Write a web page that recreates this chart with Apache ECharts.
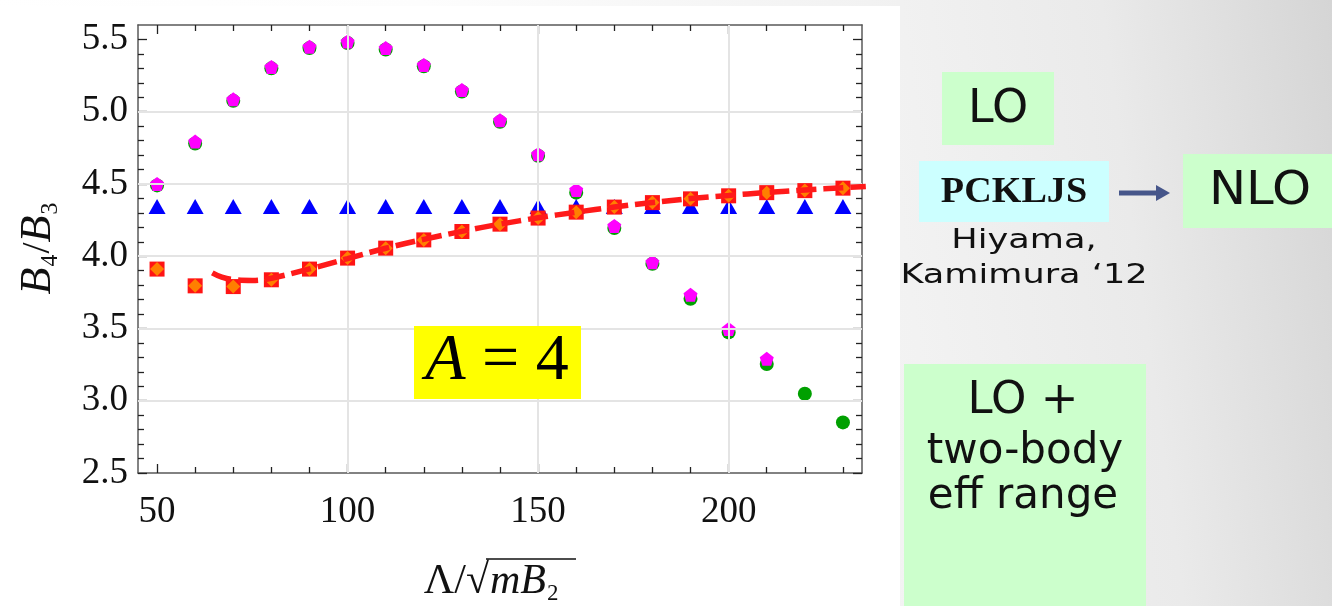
<!DOCTYPE html>
<html>
<head>
<meta charset="utf-8">
<script src="https://cdn.jsdelivr.net/npm/echarts@6/dist/echarts.min.js"></script>
<style>
  html, body { margin: 0; padding: 0; }
  #chart { width: 1332px; height: 606px; }
</style>
</head>
<body>
<div id="chart"></div>
<script>
// cutoff values
const lambda = [50, 60, 70, 80, 90, 100, 110, 120, 130, 140, 150, 160, 170, 180, 190, 200, 210, 220, 230];
const lambdaShort = [50, 60, 70, 80, 90, 100, 110, 120, 130, 140, 150, 160, 170, 180, 190, 200, 210];
// B4/B3
const ratioGreen = [4.49, 4.78, 5.075, 5.30, 5.44, 5.475, 5.43, 5.315, 5.14, 4.93, 4.695, 4.44, 4.195, 3.948, 3.705, 3.473, 3.254, 3.048, 2.85];
const ratioMagenta = [4.50, 4.793, 5.086, 5.31, 5.45, 5.485, 5.44, 5.324, 5.151, 4.941, 4.706, 4.459, 4.21, 3.959, 3.733, 3.496, 3.29];
const ratioBlue = [4.344, 4.344, 4.344, 4.344, 4.344, 4.344, 4.344, 4.344, 4.344, 4.344, 4.344, 4.344, 4.344, 4.344, 4.344, 4.344, 4.344, 4.344, 4.344];
const ratioRed = [3.911, 3.795, 3.79, 3.837, 3.911, 3.987, 4.056, 4.113, 4.171, 4.222, 4.264, 4.305, 4.340, 4.371, 4.397, 4.418, 4.44, 4.454, 4.471];
const ratioOrange = [3.911, 3.795, 3.79, 3.837, 3.911, 3.987, 4.056, 4.113, 4.171, 4.222, 4.264, 4.305, 4.340, 4.371, 4.397, 4.418, 4.44, 4.454, 4.471];
// dashed fit curve
const fitLambda = [64.5, 67, 70, 75, 80, 90, 100, 110, 120, 130, 140, 150, 160, 170, 180, 190, 200, 210, 220, 230, 236];
const fitRatio = [3.885, 3.855, 3.838, 3.832, 3.848, 3.912, 3.984, 4.055, 4.117, 4.172, 4.222, 4.266, 4.305, 4.340, 4.372, 4.399, 4.421, 4.441, 4.458, 4.474, 4.483];

// ticks and grid lines
const xMajor = [50, 100, 150, 200];
const xMinor = [60, 70, 80, 90, 110, 120, 130, 140, 160, 170, 180, 190, 210, 220, 230];
const yMajor = [2.5, 3.0, 3.5, 4.0, 4.5, 5.0, 5.5];
const yMinor = [2.6, 2.7, 2.8, 2.9, 3.1, 3.2, 3.3, 3.4, 3.6, 3.7, 3.8, 3.9, 4.1, 4.2, 4.3, 4.4, 4.6, 4.7, 4.8, 4.9, 5.1, 5.2, 5.3, 5.4];
const xGrid = [100, 150, 200];
const yGrid = [3.0, 3.5, 4.0, 4.5, 5.0];

const serif = '"Liberation Serif", "DejaVu Serif", serif';
const sans = '"DejaVu Sans", "Noto Sans", sans-serif';
const pentagon = 'path://M0,-1 L0.951,-0.309 L0.588,0.809 L-0.588,0.809 L-0.951,-0.309 Z';

const pair = (xs, ys) => xs.map((x, i) => [x, ys[i]]);

function xAxisDef(pos, ticks, len, line, labels) {
  return {
    type: 'value', min: 45, max: 235, position: pos,
    axisLine: { show: line, onZero: false, lineStyle: { color: '#5a5a5a', width: 1.5 } },
    axisTick: { show: true, inside: true, length: len, customValues: ticks, lineStyle: { color: '#222', width: 1.3 } },
    axisLabel: labels ? {
      customValues: ticks, fontSize: 37, fontFamily: serif, color: '#111', margin: 21
    } : { show: false },
    splitLine: { show: false }
  };
}
function yAxisDef(pos, ticks, len, line, labels) {
  return {
    type: 'value', min: 2.5, max: 5.6, position: pos,
    axisLine: { show: line, onZero: false, lineStyle: { color: '#5a5a5a', width: 1.5 } },
    axisTick: { show: true, inside: true, length: len, customValues: ticks, lineStyle: { color: '#222', width: 1.3 } },
    axisLabel: labels ? {
      customValues: ticks, fontSize: 37, fontFamily: serif, color: '#111', margin: 10,
      formatter: (v) => v.toFixed(1)
    } : { show: false },
    splitLine: { show: false }
  };
}

const option = {
  animation: false,
  grid: { left: 138, top: 25, right: 470, bottom: 133 },
  xAxis: [
    xAxisDef('bottom', xMajor, 9, true, true),
    xAxisDef('bottom', xMinor, 6, false, false),
    xAxisDef('top', xMajor, 9, true, false),
    xAxisDef('top', xMinor, 6, false, false)
  ],
  yAxis: [
    yAxisDef('left', yMajor, 9, true, true),
    yAxisDef('left', yMinor, 6, false, false),
    yAxisDef('right', yMajor, 9, true, false),
    yAxisDef('right', yMinor, 6, false, false)
  ],
  series: [
    {
      // grid lines
      type: 'scatter', data: [], z: 1, silent: true,
      markLine: {
        silent: true, symbol: 'none', label: { show: false },
        lineStyle: { color: '#e4e4e4', width: 2, type: 'solid' },
        emphasis: { disabled: true },
        data: xGrid.map((v) => ({ xAxis: v })).concat(yGrid.map((v) => ({ yAxis: v })))
      }
    },
    {
      type: 'scatter', data: pair(lambda, ratioGreen), symbol: 'circle', symbolSize: 14,
      itemStyle: { color: '#00a000', opacity: 1 }, z: 3
    },
    {
      type: 'scatter', data: pair(lambdaShort, ratioMagenta), symbol: pentagon, symbolSize: 14,
      itemStyle: { color: '#ff00ff', opacity: 1 }, z: 4
    },
    {
      type: 'scatter', data: pair(lambda, ratioBlue), symbol: 'triangle', symbolSize: [17, 15],
      itemStyle: { color: '#0000ff', opacity: 1 }, z: 3
    },
    {
      type: 'scatter', data: pair(lambda, ratioRed), symbol: 'rect', symbolSize: 15,
      itemStyle: { color: '#ff1414', opacity: 1 }, z: 5
    },
    {
      type: 'scatter', data: pair(lambda, ratioOrange), symbol: 'diamond', symbolSize: 14,
      itemStyle: { color: '#ff7f00', opacity: 1 }, z: 6
    },
    {
      type: 'line', data: pair(fitLambda, fitRatio), smooth: 0.4, showSymbol: false, z: 7,
      lineStyle: { color: '#ff1a1a', width: 5.5, type: [20, 7], cap: 'butt' }
    }
  ],
  graphic: [
    {
      type: 'rect', z: -20, silent: true,
      shape: { x: 0, y: 0, width: 1332, height: 606 },
      style: {
        fill: new echarts.graphic.LinearGradient(0, 0.3, 1, 0, [
          { offset: 0, color: '#ffffff' },
          { offset: 0.33, color: '#fdfdfd' },
          { offset: 0.66, color: '#f2f2f2' },
          { offset: 0.83, color: '#eaeaea' },
          { offset: 1, color: '#d5d5d5' }
        ])
      }
    },
    { type: 'rect', z: -10, silent: true, shape: { x: 0, y: 6, width: 900, height: 600 }, style: { fill: '#ffffff' } },
    // axis names
    {
      type: 'text', x: 38, y: 248, rotation: Math.PI / 2,
      style: {
        text: '{i|B}₄/{i|B}₃', fontSize: 40, fontFamily: serif, fill: '#111',
        align: 'center', verticalAlign: 'middle',
        rich: { i: { fontStyle: 'italic', fontSize: 44, fontFamily: serif } }
      }
    },
    {
      type: 'text', x: 489, y: 582,
      style: { text: 'Λ/√', fontSize: 42, fontFamily: serif, fill: '#111', align: 'right', verticalAlign: 'middle' }
    },
    {
      type: 'text', x: 490, y: 582,
      style: {
        text: '{i|mB}₂', fontSize: 38, fontFamily: serif, fill: '#111', align: 'left', verticalAlign: 'middle',
        rich: { i: { fontStyle: 'italic', fontSize: 42, fontFamily: serif } }
      }
    },
    { type: 'line', shape: { x1: 486, y1: 559, x2: 576, y2: 559 }, style: { stroke: '#111', lineWidth: 1.6 } },
    // A = 4 label
    { type: 'rect', shape: { x: 414, y: 326, width: 167, height: 73 }, style: { fill: '#ffff00' }, z: 10 },
    {
      type: 'text', x: 497, y: 362, z: 11,
      style: {
        text: '{i|A} = 4', fontSize: 66, fontFamily: serif, fill: '#000', align: 'center', verticalAlign: 'middle',
        rich: { i: { fontStyle: 'italic', fontSize: 66, fontFamily: serif } }
      }
    },
    // right panel
    { type: 'rect', shape: { x: 942, y: 72, width: 112, height: 73 }, style: { fill: '#ccffcc' } },
    { type: 'text', x: 998, y: 110, style: { text: 'LO', fontSize: 46, fontFamily: sans, fill: '#111', align: 'center', verticalAlign: 'middle' } },
    { type: 'rect', shape: { x: 919, y: 161, width: 190, height: 61 }, style: { fill: '#ccffff' } },
    {
      type: 'text', x: 1014, y: 193, scaleX: 1.06,
      style: { text: 'PCKLJS', fontSize: 36, fontWeight: 'bold', fontFamily: serif, fill: '#111', align: 'center', verticalAlign: 'middle' }
    },
    { type: 'rect', shape: { x: 1119, y: 190.5, width: 38, height: 5 }, style: { fill: '#46568a' } },
    { type: 'polygon', shape: { points: [[1156, 185], [1170, 193], [1156, 201]] }, style: { fill: '#46568a' } },
    { type: 'rect', shape: { x: 1183, y: 154, width: 160, height: 74 }, style: { fill: '#ccffcc' } },
    {
      type: 'text', x: 1260, y: 192, scaleX: 1.08,
      style: { text: 'NLO', fontSize: 46, fontFamily: sans, fill: '#111', align: 'center', verticalAlign: 'middle' }
    },
    {
      type: 'text', x: 1024, y: 241, scaleX: 1.3,
      style: { text: 'Hiyama,', fontSize: 27, fontFamily: sans, fill: '#111', align: 'center', verticalAlign: 'middle' }
    },
    {
      type: 'text', x: 1024, y: 276, scaleX: 1.3,
      style: { text: 'Kamimura ‘12', fontSize: 27, fontFamily: sans, fill: '#111', align: 'center', verticalAlign: 'middle' }
    },
    { type: 'rect', shape: { x: 904, y: 364, width: 242, height: 250 }, style: { fill: '#ccffcc' } },
    { type: 'text', x: 1023, y: 401, style: { text: 'LO +', fontSize: 45, fontFamily: sans, fill: '#111', align: 'center', verticalAlign: 'middle' } },
    { type: 'text', x: 1025, y: 452, style: { text: 'two-body', fontSize: 42, fontFamily: sans, fill: '#111', align: 'center', verticalAlign: 'middle' } },
    { type: 'text', x: 1023, y: 497, style: { text: 'eff range', fontSize: 42, fontFamily: sans, fill: '#111', align: 'center', verticalAlign: 'middle' } }
  ]
};

const chart = echarts.init(document.getElementById('chart'));
chart.setOption(option);
</script>
</body>
</html>
